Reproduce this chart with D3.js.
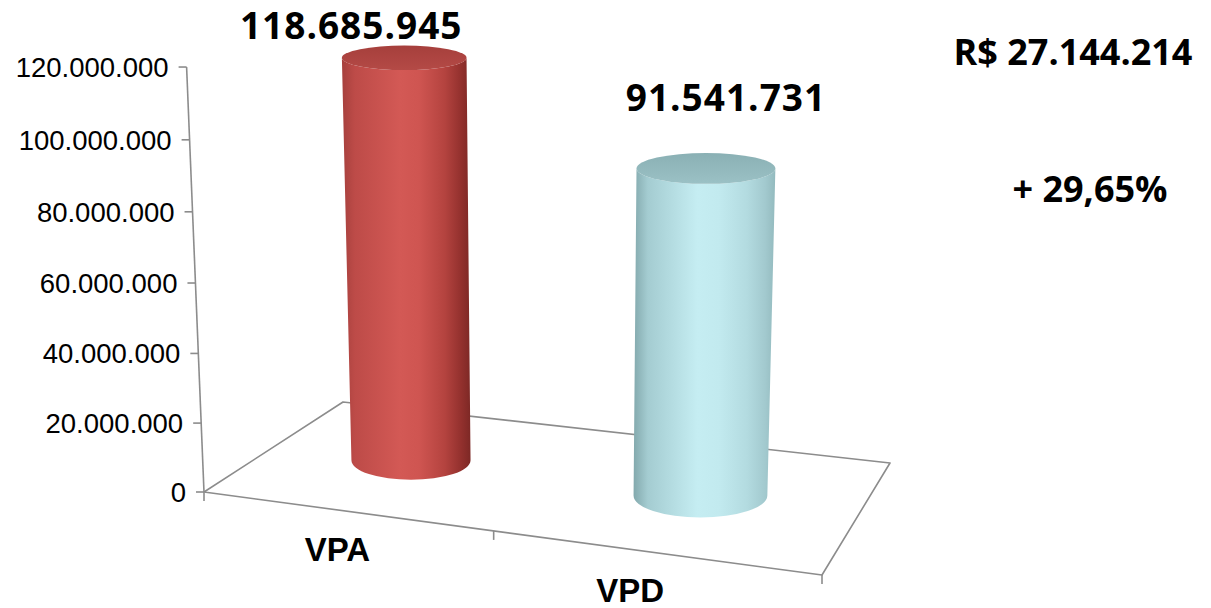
<!DOCTYPE html>
<html>
<head>
<meta charset="utf-8">
<script src="https://cdn.jsdelivr.net/npm/d3@7"></script>
<style>
  html, body { margin: 0; padding: 0; background: #fff; }
  svg { display: block; }
</style>
</head>
<body>
<div id="viz"></div>
<script>
'use strict';

// data
const categories = ['VPA', 'VPD'];
const values = [118685945, 91541731];
const yTicks = [0, 20e6, 40e6, 60e6, 80e6, 100e6, 120e6];
const yMax = 120e6;

// styles / layout
const palette = [
  {stops: ['#a6403d', '#bd4b48', '#d35955', '#cf5551', '#b4433f', '#92302d', '#7d2825'], cap: ['#a63f3c', '#b44a46']},
  {stops: ['#83a9ad', '#a4ccd1', '#c5edf2', '#c2eaef', '#b3dbe0', '#a2c9ce', '#93babe'], cap: ['#8ab0b4', '#9bc1c5']}
];
const gradOffsets = [0, 0.1, 0.45, 0.6, 0.8, 0.93, 1];
const valueLabelNudge = [[-53, -19], [20, -57]];

const W = 1211, H = 608;

const ptBR = d3.formatLocale({decimal: ',', thousands: '.', grouping: [3], currency: ['R$ ', '']});
const fmtInt = ptBR.format(',');
const fmtMoney = ptBR.format('$,');
const fmtPct = ptBR.format('.2%');

// floor corners on screen: front-left, front-right, back-right, back-left
const corners = [[204, 492], [822, 575], [890, 463], [343, 402]];
const vpY = 13185;       // vertical foreshortening
const vpX = 556;         // vertical lines converge below the chart
const slantDist = 8600;

function squareToQuad(q) {
  const [[x0, y0], [x1, y1], [x2, y2], [x3, y3]] = q;
  const dx1 = x1 - x2, dx2 = x3 - x2, dx3 = x0 - x1 + x2 - x3;
  const dy1 = y1 - y2, dy2 = y3 - y2, dy3 = y0 - y1 + y2 - y3;
  const det = dx1 * dy2 - dx2 * dy1;
  const g = (dx3 * dy2 - dx2 * dy3) / det;
  const h = (dx1 * dy3 - dx3 * dy1) / det;
  return {
    a: x1 - x0 + g * x1, b: x3 - x0 + h * x3, c: x0,
    d: y1 - y0 + g * y1, e: y3 - y0 + h * y3, f: y0,
    g, h
  };
}

const hm = squareToQuad(corners);

function floorPt(u, v) {
  const w = hm.g * u + hm.h * v + 1;
  return {
    x: (hm.a * u + hm.b * v + hm.c) / w,
    y: (hm.d * u + hm.e * v + hm.f) / w,
    w
  };
}

// scales
const x = d3.scalePoint().domain(categories).range([0, 1]).padding(0.5);
const xBand = d3.scaleBand().domain(categories).range([0, 1]);
const y = d3.scaleLinear().domain([0, yMax]).range([0, 411.2]);

function project(u, v, val) {
  const base = floorPt(u, v);
  const s = y(val) / base.w;
  const L = s / (1 - s / (vpY - base.y));
  const t = L / slantDist;
  return {x: base.x + (base.x - vpX) * t, y: base.y - L, k: 1 + t, L};
}

const svg = d3.select('#viz')
  .append('svg')
    .attr('width', W)
    .attr('height', H);

const defs = svg.append('defs');

palette.forEach((p, i) => {
  const g = defs.append('linearGradient')
    .attr('id', 'body' + i)
    .attr('x1', 0).attr('x2', 1).attr('y1', 0).attr('y2', 0);
  p.stops.forEach((c, j) => {
    g.append('stop').attr('offset', gradOffsets[j]).attr('stop-color', c);
  });
  const cg = defs.append('linearGradient')
    .attr('id', 'cap' + i)
    .attr('x1', 0).attr('x2', 0).attr('y1', 0).attr('y2', 1);
  cg.append('stop').attr('offset', 0).attr('stop-color', p.cap[0]);
  cg.append('stop').attr('offset', 1).attr('stop-color', p.cap[1]);
});

const lineColor = '#8c8c8c';

// floor outline
const floorPath = d3.line().x(d => d.x).y(d => d.y);
svg.append('path')
  .datum([[0, 0], [1, 0], [1, 1], [0, 1], [0, 0]].map(([u, v]) => floorPt(u, v)))
  .attr('d', floorPath)
  .attr('fill', 'none')
  .attr('stroke', lineColor)
  .attr('stroke-width', 1.6)
  .attr('stroke-linejoin', 'round');

// category ticks on the front edge
const catTicks = [0].concat(categories.map(c => xBand(c) + xBand.step()));
svg.append('g')
  .selectAll('line')
  .data(catTicks)
  .join('line')
    .attr('x1', d => floorPt(d, 0).x)
    .attr('y1', d => floorPt(d, 0).y)
    .attr('x2', d => floorPt(d, 0).x)
    .attr('y2', d => floorPt(d, 0).y + 9)
    .attr('stroke', lineColor)
    .attr('stroke-width', 1.6);

// value axis
const axisPts = yTicks.map(t => project(0, 0, t));
svg.append('line')
  .attr('x1', axisPts[0].x).attr('y1', axisPts[0].y)
  .attr('x2', axisPts[axisPts.length - 1].x).attr('y2', axisPts[axisPts.length - 1].y)
  .attr('stroke', lineColor)
  .attr('stroke-width', 1.6);

const yAxis = svg.append('g');
yAxis.selectAll('line')
  .data(yTicks)
  .join('line')
    .attr('x1', d => project(0, 0, d).x)
    .attr('y1', d => project(0, 0, d).y)
    .attr('x2', d => project(0, 0, d).x - 8)
    .attr('y2', d => project(0, 0, d).y)
    .attr('stroke', lineColor)
    .attr('stroke-width', 1.6);

yAxis.selectAll('text')
  .data(yTicks)
  .join('text')
    .attr('x', d => project(0, 0, d).x - 18)
    .attr('y', d => project(0, 0, d).y)
    .attr('dy', '0.36em')
    .attr('text-anchor', 'end')
    .style('font-family', '"Liberation Sans", Arial, sans-serif')
    .style('font-size', '27.5px')
    .attr('fill', '#000')
    .text(d => fmtInt(d));

// category labels
svg.append('g')
  .selectAll('text')
  .data(categories)
  .join('text')
    .attr('x', d => {
      const p = floorPt(x(d), 0);
      return p.x - (p.x - corners[0][0]) * 0.05;
    })
    .attr('y', d => floorPt(x(d), 0).y + 50)
    .attr('text-anchor', 'middle')
    .style('font-family', '"Liberation Sans", Arial, sans-serif')
    .style('font-size', '33px')
    .style('font-weight', 'bold')
    .attr('fill', '#000')
    .text(d => d);

// cylinders
const depth = 0.5;
const radius = xBand.step() * 0.218;

const cyl = categories.map((c, i) => {
  const u = x(c);
  const b = project(u, depth, 0);
  const t = project(u, depth, values[i]);
  const rxB = (floorPt(u + radius, depth).x - floorPt(u - radius, depth).x) / 2;
  const rxT = rxB * t.k;
  const ryB = rxB * 0.33;
  const ryT = rxT * (0.33 - 0.00033 * t.L);
  return {i, b, t, rxB, rxT, ryB, ryT};
});

const cg = svg.append('g');
cg.selectAll('path.body')
  .data(cyl)
  .join('path')
    .attr('class', 'body')
    .attr('d', d => [
      'M', d.t.x - d.rxT, d.t.y,
      'L', d.b.x - d.rxB, d.b.y,
      'A', d.rxB, d.ryB, 0, 0, 0, d.b.x + d.rxB, d.b.y,
      'L', d.t.x + d.rxT, d.t.y,
      'A', d.rxT, d.ryT, 0, 0, 1, d.t.x - d.rxT, d.t.y,
      'Z'
    ].join(' '))
    .attr('fill', d => `url(#body${d.i})`);

cg.selectAll('ellipse')
  .data(cyl)
  .join('ellipse')
    .attr('cx', d => d.t.x)
    .attr('cy', d => d.t.y)
    .attr('rx', d => d.rxT)
    .attr('ry', d => d.ryT)
    .attr('fill', d => `url(#cap${d.i})`);

// value labels
svg.append('g')
  .selectAll('text')
  .data(cyl)
  .join('text')
    .attr('x', d => d.t.x + valueLabelNudge[d.i][0])
    .attr('y', d => d.t.y + valueLabelNudge[d.i][1])
    .attr('text-anchor', 'middle')
    .style('font-family', '"Open Sans", "Noto Sans", sans-serif')
    .style('font-size', '37px')
    .style('font-weight', 'bold')
    .style('letter-spacing', '1px')
    .attr('fill', '#000')
    .text(d => fmtInt(values[d.i]));

// difference annotations
const diff = values[0] - values[1];
const notes = [
  {text: fmtMoney(diff), x: 1073, y: 65},
  {text: '+ ' + fmtPct(diff / values[1]), x: 1090, y: 202}
];
svg.append('g')
  .selectAll('text')
  .data(notes)
  .join('text')
    .attr('x', d => d.x)
    .attr('y', d => d.y)
    .attr('text-anchor', 'middle')
    .style('font-family', '"Open Sans", "Noto Sans", sans-serif')
    .style('font-size', '36px')
    .style('font-weight', 'bold')
    .attr('fill', '#000')
    .text(d => d.text);
</script>
</body>
</html>
